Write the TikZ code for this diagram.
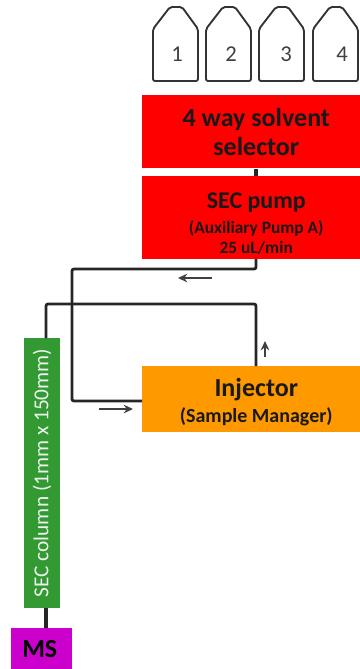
\documentclass[tikz,border=0pt]{standalone}
\usepackage{fontspec}
\setmainfont{Carlito}
\usetikzlibrary{arrows.meta}
\definecolor{pumpred}{RGB}{255,0,0}
\definecolor{injorange}{RGB}{255,153,0}
\definecolor{colgreen}{RGB}{51,153,51}
\definecolor{msviolet}{RGB}{204,0,204}
\tikzset{>=stealth}
\tikzset{
  unitbox/.style={fill=#1, inner sep=0pt, anchor=north west, align=center, font=\bfseries, text=black!90},
  tube/.style={line width=2.1pt, black!85, rounded corners=1.5pt},
  stub/.style={line width=3.2pt, black!85},
  flow/.style={-{Stealth[length=7pt,width=6.5pt]}, line width=0.9pt, black!75},
  vial/.style={line width=1.4pt, black!80, fill=white, rounded corners=1.5pt}
}
\begin{document}
\begin{tikzpicture}[x=0.75pt, y=-0.75pt]
\useasboundingbox (0,0) rectangle (360,669);
\clip (0,0) rectangle (360,669);
% solvent bottles
\foreach \x/\n/\dx in {153/1/24, 206/2/25, 259/3/27, 313/4/29}{
  \draw[vial] (\x,81) -- (\x,29) -- (\x+17,7) -- (\x+29,7) -- (\x+45,29) -- (\x+45,81) -- cycle;
  \node[font=\fontsize{17}{17}\selectfont, text=black!75] (bottle\n) at (\x+\dx,54) {\n};
}
% boxes
\node[unitbox=pumpred, minimum width=171pt, minimum height=54.75pt] (selector) at (142,95)
  {\fontsize{19.5}{24}\selectfont 4 way solvent\\[4pt]\fontsize{19.5}{24}\selectfont selector};
\node[unitbox=pumpred, minimum width=171pt, minimum height=62.25pt] (pump) at (142,176)
  {\rule{0pt}{20pt}\fontsize{18}{21}\selectfont SEC pump\\[5pt]\fontsize{13}{15}\selectfont (Auxiliary Pump A)\\[3pt]\fontsize{13}{15}\selectfont 25 uL/min};
\node[unitbox=injorange, minimum width=171pt, minimum height=49.5pt] (injector) at (142,366)
  {\rule{0pt}{18pt}\fontsize{19.5}{20}\selectfont Injector\\[4pt]\fontsize{15}{20}\selectfont (Sample Manager)};
\node[fill=colgreen, minimum width=27pt, minimum height=202.5pt, inner sep=0pt] (column) at (42,473) {};
\node[rotate=90, text=white!90!colgreen, font=\fontsize{16}{16}\selectfont] (columnlabel) at (column.center) {SEC column (1mm x 150mm)};
\node[unitbox=msviolet, minimum width=45.75pt, minimum height=30.75pt, text=black] (ms) at (11,628)
  {\fontsize{19.5}{19.5}\selectfont MS\hspace{3pt}};
% tubing
\coordinate (pumpout) at (256,259);
\coordinate (injin) at (142,401);
\coordinate (injout) at (256,366);
\coordinate (colin) at (46,338);
\coordinate (colout) at (46,608);
\draw[stub] (selector.south -| pumpout) -- (pump.north -| pumpout);
\draw[tube] (pumpout) -- (256,269) -- (72,269) -- (72,401) -- (injin);
\draw[tube] (injout) -- (256,304) -- (46,304) -- (colin);
\draw[stub] (colout) -- (ms.north -| colout);
% flow direction
\coordinate (f1a) at (212,278); \coordinate (f1b) at (178,278);
\coordinate (f2a) at (99,409);  \coordinate (f2b) at (133,409);
\coordinate (f3a) at (265,357); \coordinate (f3b) at (265,341);
\draw[flow] (f1a) -- (f1b);
\draw[flow] (f2a) -- (f2b);
\draw[flow] (f3a) -- (f3b);
\end{tikzpicture}
\end{document}
